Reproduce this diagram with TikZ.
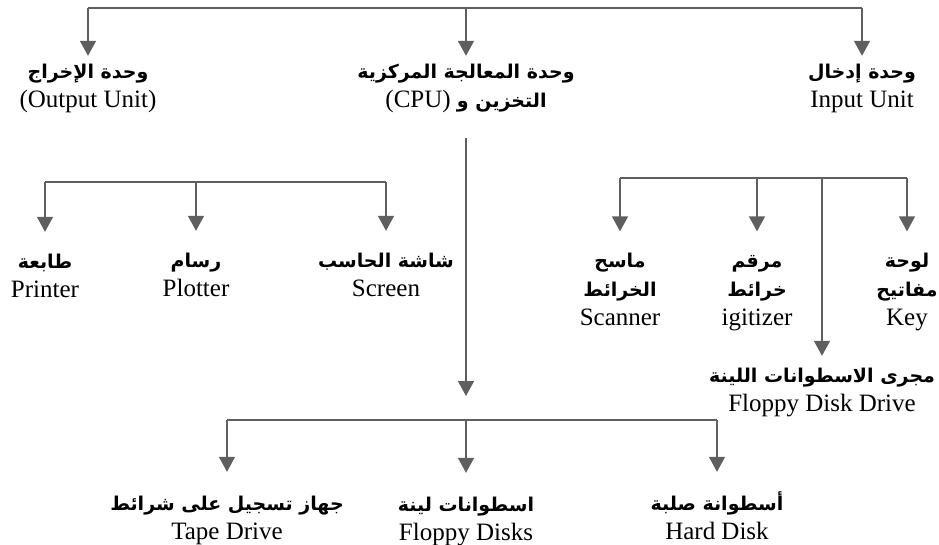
\documentclass[tikz,border=0pt]{standalone}
\usepackage{fontspec}
\setmainfont{Liberation Serif}
\newfontfamily\arabicfont[Script=Arabic]{DejaVu Sans}
\TeXXeTstate=1
\usetikzlibrary{arrows.meta}
\definecolor{linegray}{RGB}{95,95,95}
\newcommand{\arab}[1]{{\arabicfont\bfseries\fontsize{19}{29}\selectfont\strut\beginR #1\endR}}

\tikzset{
  bar/.style={color=linegray, line width=1.6pt},
  link/.style={-{Triangle[width=16pt,length=15pt]}, color=linegray, line width=1.6pt},
  gap/.style={shorten >=#1},
  lbl/.style={align=center, inner sep=2pt, font=\fontsize{25}{29}\selectfont}
}

\begin{document}
\begin{tikzpicture}[x=1pt,y=-1pt]
\useasboundingbox (0,0) rectangle (939,545);

\coordinate (t1) at (88,8);
\coordinate (t2) at (466,8);
\coordinate (t3) at (862,8);
\node[lbl] (out) at (88,87) {\arab{وحدة الإخراج}\\\strut(Output Unit)};
\node[lbl] (cpu) at (466,87) {\arab{وحدة المعالجة المركزية}\\\strut(CPU) \arab{التخزين و}};
\node[lbl] (in) at (862,87) {\arab{وحدة إدخال}\\\strut Input Unit};
\draw[bar] (t1) -- (t3);
\draw[link] (t1) -- (out);
\draw[link] (t2) -- (cpu);
\draw[link] (t3) -- (in);

\coordinate (o1) at (45,182);
\coordinate (o2) at (196,182);
\coordinate (o3) at (386,182);
\node[lbl] (printer) at (45,277) {\arab{طابعة}\\\strut Printer};
\node[lbl] (plotter) at (196,276) {\arab{رسام}\\\strut Plotter};
\node[lbl] (screen) at (386,276) {\arab{شاشة الحاسب}\\\strut Screen};
\draw[bar] (o1) -- (o3);
\draw[link, gap=14pt] (o1) -- (printer);
\draw[link, gap=14pt] (o2) -- (plotter);
\draw[link, gap=14pt] (o3) -- (screen);

\coordinate (i1) at (620,178);
\coordinate (i2) at (757,178);
\coordinate (i3) at (822,178);
\coordinate (i4) at (907,178);
\node[lbl] (scanner) at (620,291) {\arab{ماسح}\\\arab{الخرائط}\\\strut Scanner};
\node[lbl] (digitizer) at (757,291) {\arab{مرقم}\\\arab{خرائط}\\\strut igitizer};
\node[lbl] (keyboard) at (907,291) {\arab{لوحة}\\\arab{مفاتيح}\\\strut Key};
\node[lbl] (fdd) at (822,391) {\arab{مجرى الاسطوانات اللينة}\\\strut Floppy Disk Drive};
\draw[bar] (i1) -- (i4);
\draw[link, gap=14pt] (i1) -- (scanner);
\draw[link, gap=14pt] (i2) -- (digitizer);
\draw[link, gap=4pt] (i3) -- (fdd);
\draw[link, gap=14pt] (i4) -- (keyboard);

\coordinate (c1) at (466,396);
\draw[link, shorten <=20pt] (cpu) -- (c1);

\coordinate (b1) at (227,420);
\coordinate (b2) at (466,420);
\coordinate (b3) at (717,420);
\node[lbl] (tape) at (227,519) {\arab{جهاز تسجيل على شرائط}\\\strut Tape Drive};
\node[lbl] (floppy) at (466,520) {\arab{اسطوانات لينة}\\\strut Floppy Disks};
\node[lbl] (hard) at (717,519) {\arab{أسطوانة صلبة}\\\strut Hard Disk};
\draw[bar] (b1) -- (b3);
\draw[link, gap=16pt] (b1) -- (tape);
\draw[link, gap=16pt] (b2) -- (floppy);
\draw[link, gap=16pt] (b3) -- (hard);
\end{tikzpicture}
\end{document}
